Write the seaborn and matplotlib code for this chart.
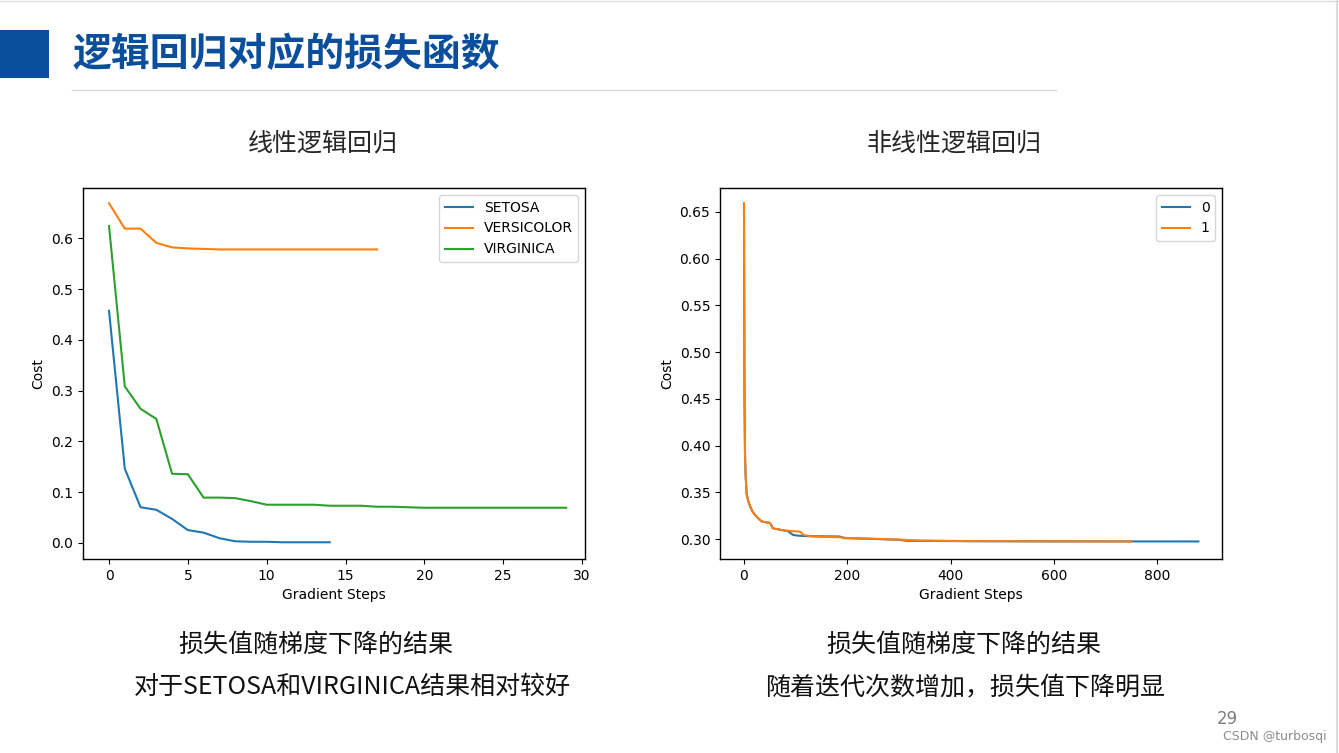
import matplotlib
matplotlib.use("Agg")
import matplotlib.pyplot as plt
from matplotlib.patches import Rectangle
from matplotlib.lines import Line2D
import seaborn as sns
import pandas as pd

# ---------------- data ----------------
# Linear logistic regression (one-vs-rest), cost per gradient step
setosa = [0.457, 0.146, 0.070, 0.065, 0.047, 0.025, 0.020, 0.009, 0.003,
          0.002, 0.002, 0.001, 0.001, 0.001, 0.001]
versicolor = [0.669, 0.619, 0.619, 0.591, 0.582, 0.580, 0.579, 0.578, 0.578,
              0.578, 0.578, 0.578, 0.578, 0.578, 0.578, 0.578, 0.578, 0.578]
virginica = [0.624, 0.308, 0.264, 0.244, 0.136, 0.135, 0.089, 0.089, 0.088,
             0.082, 0.075, 0.075, 0.075, 0.075, 0.073, 0.073, 0.073, 0.071,
             0.071, 0.070, 0.069, 0.069, 0.069, 0.069, 0.069, 0.069, 0.069,
             0.069, 0.069, 0.069]
linear_names = ["SETOSA", "VERSICOLOR", "VIRGINICA"]

# Non-linear logistic regression, sampled steps and cost
steps_0 = [0, 1, 2, 3, 4, 5, 8, 12, 16, 21, 28, 34, 42, 49, 52, 55, 60, 66,
           75, 85, 90, 95, 103, 120, 150, 185, 195, 245, 300, 315, 440, 600, 880]
cost_0 = [0.659, 0.450, 0.390, 0.370, 0.360, 0.349, 0.341, 0.335, 0.330,
          0.326, 0.322, 0.319, 0.318, 0.3175, 0.316, 0.312, 0.311, 0.3105,
          0.3095, 0.3085, 0.3065, 0.3045, 0.3038, 0.3032, 0.3030, 0.3028,
          0.3010, 0.3003, 0.2993, 0.2982, 0.2978, 0.2976, 0.2975]
steps_1 = [0, 1, 2, 3, 4, 5, 8, 12, 16, 21, 28, 34, 42, 49, 52, 55, 60, 66,
           75, 85, 95, 105, 110, 115, 130, 150, 185, 200, 245, 300, 340, 440,
           600, 750]
cost_1 = [0.659, 0.450, 0.390, 0.370, 0.360, 0.349, 0.341, 0.335, 0.330,
          0.326, 0.322, 0.319, 0.318, 0.3175, 0.316, 0.312, 0.311, 0.3105,
          0.3095, 0.309, 0.3085, 0.3082, 0.3075, 0.3045, 0.303, 0.3025, 0.302,
          0.3012, 0.3005, 0.2995, 0.2985, 0.2978, 0.2976, 0.2975]
nonlinear_names = ["0", "1"]

title_text = "逻辑回归对应的损失函数"
sub_left = "线性逻辑回归"
sub_right = "非线性逻辑回归"
cap_left = ["损失值随梯度下降的结果", "对于SETOSA和VIRGINICA结果相对较好"]
cap_right = ["损失值随梯度下降的结果", "随着迭代次数增加，损失值下降明显"]

# ---------------- build frames ----------------
rows = []
for name, vals in zip(linear_names, [setosa, versicolor, virginica]):
    for i, v in enumerate(vals):
        rows.append({"step": i, "cost": v, "cls": name})
df_lin = pd.DataFrame(rows)

rows = []
for name, xs, ys in zip(nonlinear_names, [steps_0, steps_1], [cost_0, cost_1]):
    for x, y in zip(xs, ys):
        rows.append({"step": x, "cost": y, "cls": name})
df_non = pd.DataFrame(rows)

# ---------------- figure ----------------
plt.rcParams["font.family"] = ["DejaVu Sans"]
cjk = ["Noto Sans CJK SC", "DejaVu Sans"]
fig = plt.figure(figsize=(13.39, 7.53), dpi=100)

palette = sns.color_palette("tab10")

ax1 = fig.add_axes([0.062, 0.2576, 0.375, 0.4927])
sns.lineplot(data=df_lin, x="step", y="cost", hue="cls", palette=palette[:3],
             ax=ax1, linewidth=1.5)
sns.move_legend(ax1, "upper right", title=None, frameon=True, fontsize=10)
ax1.set_xlabel("Gradient Steps", fontsize=10)
ax1.set_ylabel("Cost", fontsize=10)
ax1.set_xticks([0, 5, 10, 15, 20, 25, 30])
ax1.set_yticks([0.0, 0.1, 0.2, 0.3, 0.4, 0.5, 0.6])
ax1.set_xlim(-1.65, 30.2)
ax1.set_ylim(-0.032, 0.699)

ax2 = fig.add_axes([0.5377, 0.2576, 0.375, 0.4927])
sns.lineplot(data=df_non, x="step", y="cost", hue="cls", palette=palette[:2],
             ax=ax2, linewidth=1.5)
sns.move_legend(ax2, "upper right", title=None, frameon=True, fontsize=10)
ax2.set_xlabel("Gradient Steps", fontsize=10)
ax2.set_ylabel("Cost", fontsize=10)
ax2.set_xticks([0, 200, 400, 600, 800])
ax2.set_yticks([0.30, 0.35, 0.40, 0.45, 0.50, 0.55, 0.60, 0.65])
ax2.set_xlim(-46.5, 926)
ax2.set_ylim(0.2787, 0.6756)

for ax in (ax1, ax2):
    ax.tick_params(labelsize=10)
    for s in ax.spines.values():
        s.set_color("black")
        s.set_linewidth(1.0)

# slide decorations
fig.patches.append(Rectangle((0, 0.8964), 0.0366, 0.0637, transform=fig.transFigure,
                             facecolor="#0B4F9C", edgecolor="none"))
fig.text(0.0538, 0.927, title_text, family=cjk, fontsize=28, fontweight="bold",
         color="#0B4F9C", ha="left", va="center")
fig.lines.append(Line2D([0.0538, 0.789], [0.8805, 0.8805], transform=fig.transFigure,
                        color="#d9d9d9", linewidth=1.0))
fig.lines.append(Line2D([0, 1], [0.9993, 0.9993], transform=fig.transFigure,
                        color="#dcdcdc", linewidth=1.0))
fig.lines.append(Line2D([0.9985, 0.9985], [0, 1], transform=fig.transFigure,
                        color="#dcdcdc", linewidth=1.5))

fig.text(0.2412, 0.810, sub_left, family=cjk, fontsize=18, color="#262626",
         ha="center", va="center")
fig.text(0.7125, 0.810, sub_right, family=cjk, fontsize=18, color="#262626",
         ha="center", va="center")

fig.text(0.236, 0.1434, cap_left[0], family=cjk, fontsize=18, color="#111111",
         ha="center", va="center")
fig.text(0.2629, 0.0876, cap_left[1], family=cjk, fontsize=18, color="#111111",
         ha="center", va="center")
fig.text(0.720, 0.1434, cap_right[0], family=cjk, fontsize=18, color="#111111",
         ha="center", va="center")
fig.text(0.7207, 0.0876, cap_right[1], family=cjk, fontsize=18, color="#111111",
         ha="center", va="center")

fig.text(0.9164, 0.045, "29", fontsize=12, color="#7f7f7f", ha="center", va="center")
fig.text(0.913, 0.0216, "CSDN @turbosqi", fontsize=9, color="#8c8c8c",
         ha="left", va="center")

fig.savefig("out.png", dpi=100, facecolor="white")
